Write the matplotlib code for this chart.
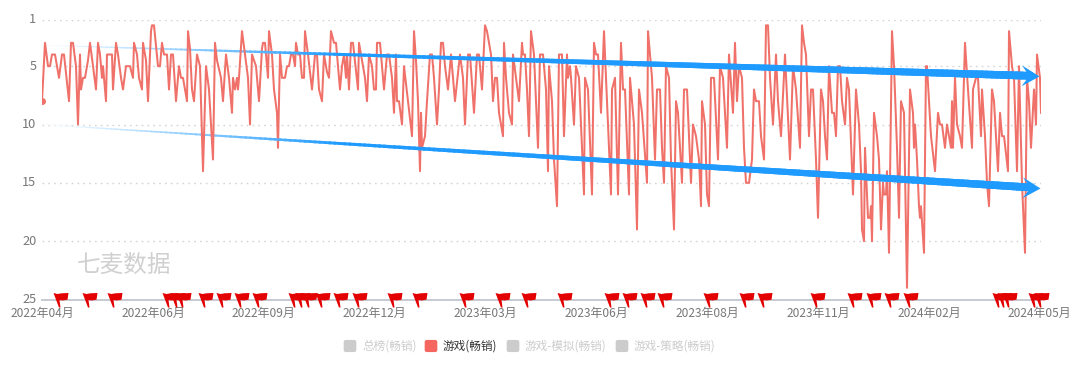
import numpy as np
import matplotlib
matplotlib.use("Agg")
import matplotlib.pyplot as plt
from matplotlib.collections import LineCollection
from matplotlib.colors import to_rgb
from matplotlib.patches import FancyBboxPatch
from matplotlib.path import Path
from matplotlib.transforms import Affine2D, ScaledTranslation

plt.rcParams['font.family'] = ['Noto Sans CJK SC', 'DejaVu Sans']

obs_pos = [0, 3, 6, 8, 10, 13, 17, 20, 22, 27, 29, 31, 34, 36, 38, 39, 41, 43, 46, 48,
           51, 54, 56, 58, 60, 61, 64, 65, 70, 71, 74, 76, 79, 81, 84, 88, 91, 92, 95, 97,
           100, 101, 104, 106, 109, 110, 112, 116, 118, 120, 122, 125, 127, 129, 131, 134, 137, 139, 141, 143,
           145, 146, 148, 150, 152, 155, 158, 161, 164, 167, 171, 173, 175, 179, 181, 184, 187, 190, 191, 193,
           195, 196, 197, 200, 203, 206, 208, 210, 214, 217, 220, 221, 223, 226, 227, 230, 232, 235, 236, 238,
           240, 243, 245, 247, 249, 251, 253, 254, 256, 258, 260, 262, 263, 266, 270, 273, 275, 277, 280, 282,
           285, 287, 289, 292, 294, 298, 300, 302, 304, 305, 307, 309, 311, 316, 317, 320, 323, 325, 327, 330,
           332, 334, 335, 338, 342, 345, 347, 350, 352, 354, 355, 357, 360, 362, 366, 370, 372, 374, 376, 378,
           379, 380, 383, 385, 388, 390, 392, 395, 397, 399, 401, 403, 406, 409, 413, 418, 421, 423, 426, 428,
           432, 435, 437, 440, 443, 445, 449, 451, 453, 455, 457, 461, 462, 464, 467, 470, 471, 474, 477, 480,
           481, 483, 485, 487, 489, 492, 496, 498, 501, 504, 506, 507, 510, 512, 515, 517, 520, 522, 525, 526,
           528, 529, 532, 534, 537, 542, 543, 546, 550, 552, 554, 556, 559, 562, 569, 570, 573, 576, 579, 581,
           583, 587, 588, 592, 595, 597, 600, 605, 606, 610, 613, 615, 618, 620, 622, 624, 627, 629, 632, 634,
           636, 640, 642, 645, 649, 651, 654, 657, 659, 660, 663, 665, 667, 669, 672, 676, 678, 681, 685, 687,
           691, 693, 695, 697, 700, 702, 704, 707, 710, 712, 714, 717, 719, 722, 724, 726, 728, 731, 734, 736,
           739, 743, 748, 751, 754, 758, 760, 762, 764, 767, 769, 771, 774, 776, 779, 781, 783, 785, 787, 790,
           792, 794, 796, 798, 800, 803, 805, 807, 811, 814, 817, 819, 820, 822, 823, 826, 828, 829, 830, 832,
           835, 837, 839, 841, 842, 844, 845, 847, 850, 852, 855, 857, 859, 862, 865, 868, 871, 872, 873, 875,
           877, 878, 879, 882, 884, 885, 887, 889, 893, 896, 898, 900, 903, 905, 907, 909, 910, 911, 913, 915,
           918, 920, 923, 926, 930, 931, 934, 936, 939, 940, 943, 945, 947, 950, 952, 956, 958, 960, 962, 966,
           967, 970, 972, 975, 977, 980, 983, 985, 987, 989, 992, 994, 995, 998, 999]
rank_vals = [8, 3, 5, 5, 4, 4, 6, 4, 4, 8, 3, 3, 5, 10, 4, 7, 6, 6, 4.5, 3,
             5, 7, 3, 4, 6, 5, 8, 4, 4, 7, 3, 4, 6, 7, 5, 5, 6, 3, 4, 6,
             7, 3, 4.5, 8, 2, 1.5, 1.5, 5, 5, 3, 4, 4, 7, 4, 4, 8, 5, 6, 6, 7,
             8, 2, 3.5, 7, 8, 4, 5, 14, 5, 7, 13, 3, 4.5, 6, 8, 4, 6, 9, 6, 7,
             6, 7, 6, 2, 4, 6, 10, 4, 5, 8, 3.5, 3, 3, 6, 2, 4, 7, 9, 12, 4,
             6, 6, 5, 5, 4, 4, 5, 3, 4, 4, 6, 6, 2, 4, 7, 4, 4, 7, 8, 4,
             5.5, 6, 2, 3, 3, 7, 5, 4, 6, 4, 7, 3, 3, 7, 3, 4.5, 6, 8, 4, 5,
             7, 7, 3, 3, 7, 4, 4, 6, 9, 4, 8, 8, 10, 5, 8, 11, 2, 4.5, 8, 14,
             9, 12, 11, 8, 4, 4, 6, 10, 7, 3, 3, 5, 7, 4, 8, 4, 6, 10, 4, 4,
             9, 4, 4, 7, 1.5, 2, 4, 8, 6, 6, 9, 11, 3, 6, 9, 10, 4, 6, 8, 3,
             4, 4, 7, 11, 2, 4, 12, 4, 4, 7, 14, 5, 8, 13, 17, 4, 4, 11, 4, 6,
             5, 6, 10, 5, 6, 16, 6, 7, 16, 3, 4, 4, 9, 2, 16, 7, 6, 16, 3, 7,
             7, 16, 6, 10, 19, 7, 9, 15, 2, 6, 13, 7, 7, 12, 15, 5, 6, 13, 19, 8,
             9, 15, 7, 7, 15, 10, 11, 13, 17, 8, 10, 16, 17, 6, 6, 13, 5, 6, 12, 4,
             9, 3, 8, 5, 6, 12, 15, 15, 13, 7, 8, 8, 11, 13, 1.5, 1.5, 6, 10, 4, 8,
             11, 4, 13, 5, 7, 12, 1.5, 3, 4, 11, 7, 7, 13, 18, 7, 8, 11, 13, 5, 9,
             9, 11, 5, 5, 8, 10, 6, 7, 16, 7, 10, 14, 19, 20, 12, 18, 18, 17, 20, 9,
             11, 13, 19, 15, 16, 16, 14, 21, 2, 5, 12, 18, 8, 9, 24, 7, 9, 12, 10, 13,
             17, 18, 17, 21, 5, 5, 8, 11, 14, 9, 10, 10, 12, 10, 11, 12, 8, 12, 6, 10,
             11, 12, 3, 7, 12, 7, 6, 6, 11, 7, 11, 15, 17, 7, 8, 14, 9, 11, 11, 14,
             2, 5, 6, 14, 5, 15, 21, 6, 8, 12, 7, 10, 4, 6, 9]

flag_pos = [16, 45, 70, 125, 133, 139, 161, 179, 197, 215, 251, 258, 265, 278, 296, 315,
            350, 375, 422, 458, 484, 520, 567, 585, 603, 620, 666, 702, 720, 773, 810, 829,
            847, 866, 955, 960, 965, 991, 997]

y_ticks = [1, 5, 10, 15, 20, 25]
x_tick_labels = ['2022年04月', '2022年06月', '2022年09月', '2022年12月', '2023年03月',
                 '2023年06月', '2023年08月', '2023年11月', '2024年02月', '2024年05月']
x_tick_pos = [0, 111, 221, 332, 443, 554, 665, 776, 887, 997]

# two hand drawn trend arrows: start rank, end rank, end position
trend_starts = [3.2, 10.0]
trend_ends = [5.85, 15.45]
trend_end_pos = [997, 998]

legend_names = ['总榜(畅销)', '游戏(畅销)', '游戏-模拟(畅销)', '游戏-策略(畅销)']
legend_x = [344, 425, 507, 616]

W, H = 1080, 369
LINE_RED = '#ef7169'
BLUE = '#1f9bff'

fig = plt.figure(figsize=(W / 100, H / 100), dpi=100)
ax = fig.add_axes([42 / W, 1 - 299.5 / H, 999 / W, 280 / H])
ax.set_xlim(0, 999)
ax.set_ylim(25, 1)

for s in ax.spines.values():
    s.set_visible(False)

for t in y_ticks[:-1]:
    ax.axhline(t, color='#d4d4d4', lw=1, ls=(0, (1.2, 3)), zorder=1)
ax.axhline(25, color='#c6cad2', lw=1.4, zorder=1, clip_on=False)

ax.set_yticks(y_ticks)
ax.set_xticks(x_tick_pos)
ax.set_xticklabels(x_tick_labels)
ax.tick_params(axis='x', length=0, labelsize=8.6, labelcolor='#777777', pad=5.5)
ax.tick_params(axis='y', length=0, labelsize=9.2, labelcolor='#777777', pad=4)

# y labels sit a little above their grid lines
for lab in ax.get_yticklabels():
    lab.set_transform(lab.get_transform() + ScaledTranslation(0, 1.5 / 100, fig.dpi_scale_trans))

ax.plot(obs_pos, rank_vals, color=LINE_RED, lw=1.45, zorder=3,
        solid_joinstyle='round', marker='o', ms=4, markevery=[0])

ax.text(35, 22.1, '七麦数据', fontsize=17, color='#d0d0d0', fontweight='medium',
        va='center', ha='left', zorder=2)

# arrows get thicker and more solid from left to right
head = Path([(0, 0), (-17, 10), (-12, 3), (-12, -3), (-17, -10), (0, 0)], closed=True)
blue_rgb = np.array(to_rgb(BLUE))
for start, end, end_x in zip(trend_starts, trend_ends, trend_end_pos):
    xs = np.linspace(0, end_x - 10, 200)
    ys = np.linspace(start, start + (end - start) * (end_x - 10) / end_x, 200)
    pts = np.column_stack([xs, ys])
    segs = np.stack([pts[:-1], pts[1:]], axis=1)
    frac = xs[:-1] / xs[-1]
    fade = np.clip(frac / 0.3, 0.03, 1)[:, None]
    colors = 1 - fade * (1 - blue_rgb)
    widths = 0.6 + 5 * frac
    faded = frac < 0.22
    # the pale part stays under the red line, the solid part goes over it
    ax.add_collection(LineCollection(segs[faded], colors=colors[faded], linewidths=widths[faded],
                                     zorder=2.5, capstyle='projecting'))
    ax.add_collection(LineCollection(segs[~faded], colors=colors[~faded], linewidths=widths[~faded],
                                     zorder=4, capstyle='projecting'))
    tilted = head.transformed(Affine2D().rotate_deg(-2))
    ax.plot([end_x], [end], marker=tilted, ms=26, color=BLUE, mew=0, ls='',
            zorder=4, clip_on=False)

flag = Path([(-5, 7.5), (-1, 6.5), (3, 7.2), (10, 7.5), (9, 0.8), (4, 0), (1, 0.5),
             (2, -7), (0.5, -7), (-5, 7.5)], closed=True)
ax.plot(flag_pos, [25] * len(flag_pos), marker=flag, ms=14.4, color='#e30000', mew=0, ls='',
        zorder=5, clip_on=False)

# legend, only the second series is switched on
for i, (name, lx) in enumerate(zip(legend_names, legend_x)):
    on = i == 1
    fig.add_artist(FancyBboxPatch((lx / W + 0.0007, 1 - 351 / H), 10.5 / W, 10 / H,
                                  boxstyle='round,pad=0.001,rounding_size=0.002',
                                  transform=fig.transFigure, mutation_aspect=W / H,
                                  fc='#f4665f' if on else '#cccccc', ec='none'))
    fig.text((lx + 18) / W, 1 - 346 / H, name, fontsize=8.4, va='center', ha='left',
             color='#333333' if on else '#cccccc')

fig.savefig('out.png', dpi=100, facecolor='white')
